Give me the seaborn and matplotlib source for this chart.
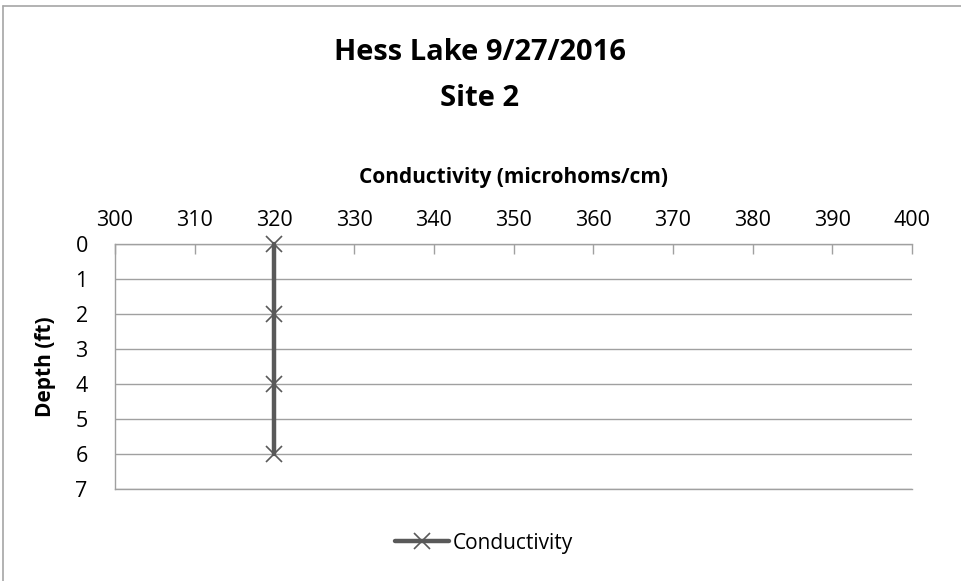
import matplotlib
matplotlib.use("Agg")
import matplotlib.pyplot as plt
import seaborn as sns
import pandas as pd
from matplotlib.lines import Line2D

depth = [0, 2, 4, 6]
conductivity = [320, 320, 320, 320]
x_ticks = [300, 310, 320, 330, 340, 350, 360, 370, 380, 390, 400]
y_ticks = [0, 1, 2, 3, 4, 5, 6, 7]

df = pd.DataFrame({"Depth": depth, "Conductivity": conductivity})

sns.set_theme(style="white")
plt.rcParams["font.family"] = ["Open Sans", "DejaVu Sans"]
plt.rcParams["text.color"] = "black"
plt.rcParams["axes.labelcolor"] = "black"

W, H = 961, 581
fig = plt.figure(figsize=(W / 100, H / 100), dpi=100)
left, right, top, bottom = 115, 912, 244, 489
ax = fig.add_axes([left / W, 1 - bottom / H, (right - left) / W, (bottom - top) / H])

sns.lineplot(data=df, x="Conductivity", y="Depth", sort=False, ax=ax,
             color="#595959", linewidth=3.2, marker="x", markersize=11,
             markeredgecolor="#595959", markeredgewidth=1.2, legend=False,
             estimator=None, clip_on=False, zorder=5)

ax.set_xlim(300, 400)
ax.set_ylim(7, 0)
ax.set_xticks(x_ticks)
ax.set_yticks(y_ticks)
ax.xaxis.tick_top()
ax.xaxis.set_label_position("top")
ax.tick_params(axis="x", direction="in", length=7, width=1, color="#a0a0a0",
               labelsize=15.5, pad=9, labelcolor="black")
ax.tick_params(axis="y", length=0, labelsize=15.5, labelcolor="black")
for t in ax.get_yticklabels():
    t.set_horizontalalignment("center")
ax.yaxis.set_tick_params(pad=24)

ax.grid(axis="y", color="#a0a0a0", linewidth=1)
ax.set_axisbelow(True)
for s in ["top", "left", "bottom", "right"]:
    ax.spines[s].set_visible(s in ["top", "left", "bottom"])
    ax.spines[s].set_color("#a0a0a0")
    ax.spines[s].set_linewidth(1)

ax.set_xlabel("Conductivity (microhoms/cm)", fontsize=15, fontweight="bold", labelpad=20)
ax.set_ylabel("Depth (ft)", fontsize=15, fontweight="bold", labelpad=14)

fig.text(480 / W, 1 - 53 / H, "Hess Lake 9/27/2016", ha="center", va="center",
         fontsize=21, fontweight="bold")
fig.text(480 / W, 1 - 98 / H, "Site 2", ha="center", va="center",
         fontsize=21, fontweight="bold")

handle = Line2D([], [], color="#595959", linewidth=3.2, marker="x", markersize=11,
                markeredgecolor="#595959", markeredgewidth=1.2)
fig.legend([handle], ["Conductivity"], loc="center", bbox_to_anchor=(484 / W, 1 - 543 / H),
           frameon=False, fontsize=15, handlelength=2.6, handletextpad=0.2)

# outer chart border (top and left visible)
fig.add_artist(Line2D([3 / W, 1], [1 - 6 / H, 1 - 6 / H], transform=fig.transFigure,
                      color="#a6a6a6", linewidth=1.2))
fig.add_artist(Line2D([3 / W, 3 / W], [0, 1 - 6 / H], transform=fig.transFigure,
                      color="#a6a6a6", linewidth=1.2))

fig.savefig("out.png", dpi=100, facecolor="white")
